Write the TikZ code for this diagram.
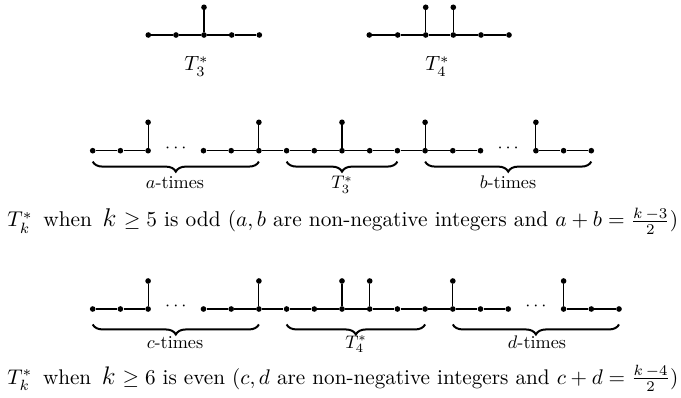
\documentclass[tikz,border=0pt]{standalone}
\usetikzlibrary{decorations.pathreplacing,calc}
\tikzset{
  v/.style={circle,fill=black,inner sep=0pt,minimum size=3.1pt},
  edge/.style={line width=0.6pt},
  brc/.style={decorate,decoration={brace,mirror,amplitude=5.5pt},line width=1.1pt},
  lab/.style={inner sep=0pt,anchor=base},
  capt/.style={inner sep=0pt,anchor=base west},
}
\begin{document}
\begin{tikzpicture}[x=0.55pt,y=-0.55pt]
\useasboundingbox (0,0) rectangle (681,398);
% ---- T3* ----
\foreach \i/\x in {1/148.3,2/176,3/204,4/231.7,5/259.3}
  \node[v] (t\i) at (\x,35) {};
\node[v] (tp) at (204,7.3) {};
\draw[edge] (t1)--(t2)--(t3)--(t4)--(t5);
\draw[edge] (t3)--(tp);
\node[capt] (t3lab) at (184,71) {\scalebox{1.13}{$T_3^*$}};
% ---- T4* ----
\foreach \i/\x in {1/369.3,2/397.7,3/425.7,4/453.3,5/481,6/509}
  \node[v] (u\i) at (\x,35) {};
\node[v] (up3) at (425.7,7.3) {};
\node[v] (up4) at (453.3,7.3) {};
\draw[edge] (u1)--(u2)--(u3)--(u4)--(u5)--(u6);
\draw[edge] (u3)--(up3) (u4)--(up4);
\node[capt] (t4lab) at (425,71) {\scalebox{1.13}{$T_4^*$}};
% ---- odd row ----
\foreach \i in {0,1,2,4,5,6,7,8,9,10,11,12,13,14,16,17,18}
  \node[v] (a\i) at ({92.7+27.7*\i},150.7) {};
\foreach \i in {2,6,9,12,16}{
  \node[v] (ap\i) at ({92.7+27.7*\i},122.3) {};
  \draw[edge] (a\i)--(ap\i);}
\foreach \i [evaluate=\i as \j using int(\i+1)] in {0,1,4,5,6,7,8,9,10,11,12,13,16,17}
  \draw[edge] (a\i)--(a\j);
\node[inner sep=0pt] (adots) at ({92.7+27.7*3},148.5) {$\cdots$};
\node[inner sep=0pt] (bdots) at ({92.7+27.7*15},148.5) {$\cdots$};
\draw[brc] ([yshift=-6pt]a0.center) -- ([yshift=-6pt]a6.center);
\draw[brc] ([yshift=-6pt]a7.center) -- ([yshift=-6pt]a11.center);
\draw[brc] ([yshift=-6pt]a12.center) -- ([yshift=-6pt]a18.center);
\node[lab] (la) at (175,189) {$a$-times};
\node[lab] (l3) at (342,189) {$T_3^*$};
\node[lab] (lb) at (508,189) {$b$-times};
\node[capt] (cap1) at (7,227) {\resizebox{369pt}{!}{$T_k^*$\enspace when\enspace {\large$k$} $\geq 5$ is odd ($a,b$ are non-negative integers and $a+b=\frac{k\,-3}{2}$)}};
% ---- even row ----
\foreach \i in {0,1,2,4,5,6,7,8,9,10,11,12,13,14,15,17,18,19}
  \node[v] (c\i) at ({92.7+27.7*\i},309) {};
\foreach \i in {2,6,9,10,13,17}{
  \node[v] (cp\i) at ({92.7+27.7*\i},281) {};
  \draw[edge] (c\i)--(cp\i);}
\foreach \i [evaluate=\i as \j using int(\i+1)] in {0,1,4,5,6,7,8,9,10,11,12,13,14,17,18}
  \draw[edge] (c\i)--(c\j);
\node[inner sep=0pt] (cdots) at ({92.7+27.7*3},306.8) {$\cdots$};
\node[inner sep=0pt] (ddots) at ({92.7+27.7*16},306.8) {$\cdots$};
\draw[brc] ([yshift=-8.5pt]c0.center) -- ([yshift=-8.5pt]c6.center);
\draw[brc] ([yshift=-8.5pt]c7.center) -- ([yshift=-8.5pt]c12.center);
\draw[brc] ([yshift=-8.5pt]c13.center) -- ([yshift=-8.5pt]c19.center);
\node[lab] (lc) at (175,348) {$c$-times};
\node[lab] (l4) at (356,348) {$T_4^*$};
\node[lab] (ld) at (537,348) {$d$-times};
\node[capt] (cap2) at (7,384) {\resizebox{369pt}{!}{$T_k^*$\enspace when\enspace {\large$k$} $\geq 6$ is even ($c,d$ are non-negative integers and $c+d=\frac{k\,-4}{2}$)}};
\end{tikzpicture}
\end{document}
